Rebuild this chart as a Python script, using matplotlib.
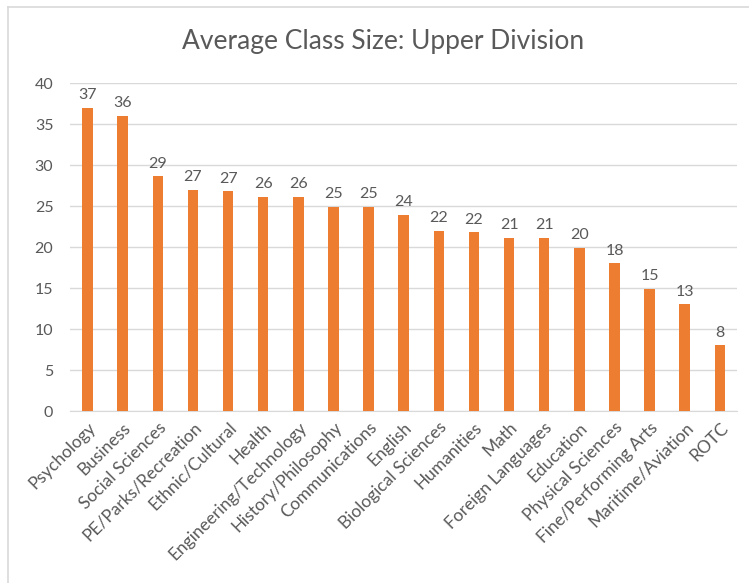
import matplotlib
matplotlib.use("Agg")
import matplotlib.pyplot as plt
from matplotlib.lines import Line2D

categories = [
    "Psychology", "Business", "Social Sciences", "PE/Parks/Recreation",
    "Ethnic/Cultural", "Health", "Engineering/Technology", "History/Philosophy",
    "Communications", "English", "Biological Sciences", "Humanities", "Math",
    "Foreign Languages", "Education", "Physical Sciences", "Fine/Performing Arts",
    "Maritime/Aviation", "ROTC",
]
avg_size = [37.0, 36.0, 28.6, 27.0, 26.8, 26.1, 26.1, 24.9, 24.9, 23.9,
            22.0, 21.8, 21.1, 21.1, 19.9, 18.0, 14.9, 13.0, 8.0]
y_ticks = [0, 5, 10, 15, 20, 25, 30, 35, 40]

TEXT = "#595959"
BAR = "#ED7D31"
GRID = "#D9D9D9"

plt.rcParams["font.family"] = ["Lato", "DejaVu Sans"]

fig = plt.figure(figsize=(7.49, 5.83), dpi=100)
ax = fig.add_axes([0.0935, 0.295, 0.891, 0.5626])

x = list(range(len(categories)))
bars = ax.bar(x, avg_size, width=0.3, color=BAR, zorder=3)

for rect, v in zip(bars, avg_size):
    ax.annotate(f"{round(v)}", (rect.get_x() + rect.get_width() / 2, v),
                xytext=(0, 4), textcoords="offset points",
                ha="center", va="bottom", fontsize=11.5, color=TEXT)

ax.set_xlim(-0.5, len(categories) - 0.5)
ax.set_ylim(0, 40)
ax.set_yticks(y_ticks)
ax.set_xticks(x)
ax.set_xticklabels(categories, rotation=45, ha="right", rotation_mode="anchor")
ax.tick_params(axis="y", length=0, colors=TEXT, labelsize=11.5, pad=12)
ax.tick_params(axis="x", length=0, colors=TEXT, labelsize=12.5, pad=6)
ax.grid(axis="y", color=GRID, linewidth=1, zorder=0)
for side in ["top", "right", "left"]:
    ax.spines[side].set_visible(False)
ax.spines["bottom"].set_color(GRID)

fig.text(0.512, 0.928, "Average Class Size: Upper Division", ha="center",
         va="center", fontsize=19, color=TEXT)

# chart frame (left and top edges visible in the crop)
fig.add_artist(Line2D([7.5 / 749, 7.5 / 749], [0, 1 - 6.5 / 583],
                      transform=fig.transFigure, color=GRID, linewidth=1.2))
fig.add_artist(Line2D([7.5 / 749, 1], [1 - 6.5 / 583, 1 - 6.5 / 583],
                      transform=fig.transFigure, color=GRID, linewidth=1.2))

fig.savefig("out.png", dpi=100)
